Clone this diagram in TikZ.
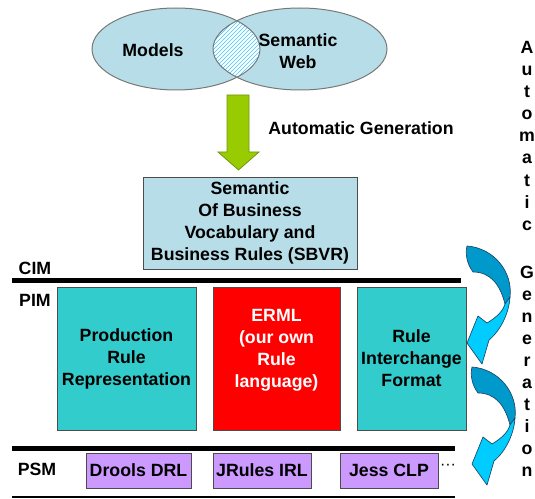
\documentclass[tikz,border=0pt]{standalone}
\usepackage{fontspec}
\setmainfont{Liberation Sans}
\usetikzlibrary{patterns}
\definecolor{ellfill}{RGB}{183,222,232}
\definecolor{ellline}{RGB}{120,120,120}
\definecolor{tealbox}{RGB}{51,204,204}
\definecolor{purp}{RGB}{204,153,255}
\definecolor{grn}{RGB}{153,204,0}
\definecolor{grnd}{RGB}{110,150,20}
\definecolor{arrdark}{RGB}{0,153,204}
\definecolor{arrlight}{RGB}{0,204,255}
\definecolor{arrline}{RGB}{30,70,100}
\definecolor{hatch}{RGB}{60,200,255}
\begin{document}
\begin{tikzpicture}[x=0.75pt,y=-0.75pt,
  txt/.style={font=\bfseries\fontsize{13.3}{16.5}\selectfont, align=center, inner sep=0pt},
  box/.style={draw=black!70, line width=0.75pt, inner sep=0pt, txt},
  level/.style={line width=3.75pt},
  thinlevel/.style={line width=1.5pt},
  ell/.style={draw=ellline, line width=0.75pt},
  curvdark/.style={fill=arrdark, draw=arrline, line width=0.5pt, line join=round},
  curvlight/.style={fill=arrlight, draw=arrline, line width=0.5pt, line join=round}]
\useasboundingbox (0,0) rectangle (535,499);

% Venn ellipses
\fill[ellfill] (176,49) ellipse [x radius=84, y radius=41];
\fill[ellfill] (300,49) ellipse [x radius=87, y radius=41];
\begin{scope}
  \clip (176,49) ellipse [x radius=84, y radius=41];
  \fill[white] (300,49) ellipse [x radius=87, y radius=41];
  \fill[pattern=north east lines, pattern color=hatch] (300,49) ellipse [x radius=87, y radius=41];
\end{scope}
\draw[ell] (176,49) ellipse [x radius=84, y radius=41];
\draw[ell] (300,49) ellipse [x radius=87, y radius=41];
\node[txt] (models) at (153,50) {Models};
\node[txt] (semweb) at (298,51) {Semantic\\Web};

% green block arrow
\draw[fill=grn, draw=grnd, line width=0.6pt, line join=miter]
  (227,95) -- (249,95) -- (249,152) -- (259,152) -- (238.5,170) -- (218,152) -- (227,152) -- cycle;
\node[txt] (autogen) at (361,128) {Automatic Generation};

% SBVR box
\node[box, fill=ellfill, minimum width=160.5pt, minimum height=69pt] (sbvr) at (250,223)
  {Semantic\\Of Business\\Vocabulary and\\Business Rules (SBVR)};

% level lines
\draw[level] (12,280) -- (461,280);
\draw[level] (12,448) -- (455,448);
\draw[thinlevel] (12,497) -- (455,497);
\node[txt] (cim) at (35,268) {CIM};
\node[txt] (pim) at (35,300) {PIM};
\node[txt] (psm) at (37,469) {PSM};

% PIM boxes
\node[box, fill=tealbox, minimum width=104.25pt, minimum height=107.25pt] (prod) at (126.5,358.5)
  {Production\\Rule\\Representation};
\node[box, fill=red, minimum width=95.25pt, minimum height=107.25pt] (erml) at (276.5,358.5) {};
\node[txt, text=white] (ermltxt) at (276.5,350) {ERML\\(our own\\Rule\\language)};
\node[box, fill=tealbox, minimum width=81.75pt, minimum height=107.25pt] (rif) at (411.5,358.5)
  {Rule\\Interchange\\Format};

% PSM boxes
\node[box, fill=purp, minimum width=78.75pt, minimum height=26.25pt] (drools) at (138.5,470.5) {Drools DRL};
\node[box, fill=purp, minimum width=73.5pt, minimum height=26.25pt] (jrules) at (262,470.5) {JRules IRL};
\node[box, fill=purp, minimum width=73.5pt, minimum height=26.25pt] (jess) at (389,470.5) {Jess CLP};
\node[font=\fontsize{12}{14}\selectfont, inner sep=0pt] (dots) at (448,467) {···};

% vertical text
\foreach \l [count=\i from 0] in {A,u,t,o,m,a,t,i,c}
  \node[txt, anchor=base] (va\i) at (527,{54+22*\i}) {\l};
\foreach \l [count=\i from 0] in {G,e,n,e,r,a,t,i,o,n}
  \node[txt, anchor=base] (vg\i) at (527,{278+22*\i}) {\l};

% curved arrows
\foreach \dx/\dy [count=\k] in {0/0, 5/121} {
  \begin{scope}[shift={(\dx,\dy)}]
    \draw[curvdark] (467,246) .. controls (494,248) and (513,272) .. (510,297)
      -- (505,304) .. controls (500,284) and (490,272) .. (473,272)
      .. controls (467,264) and (465,254) .. (467,246) -- cycle;
    \draw[curvlight] (510,297) .. controls (509,313) and (501,330) .. (489,340)
      -- (482,364) -- (467,343) -- (478,316) -- (487,323)
      .. controls (497,317) and (503,311) .. (505,304) -- cycle;
  \end{scope}
}
\end{tikzpicture}
\end{document}
